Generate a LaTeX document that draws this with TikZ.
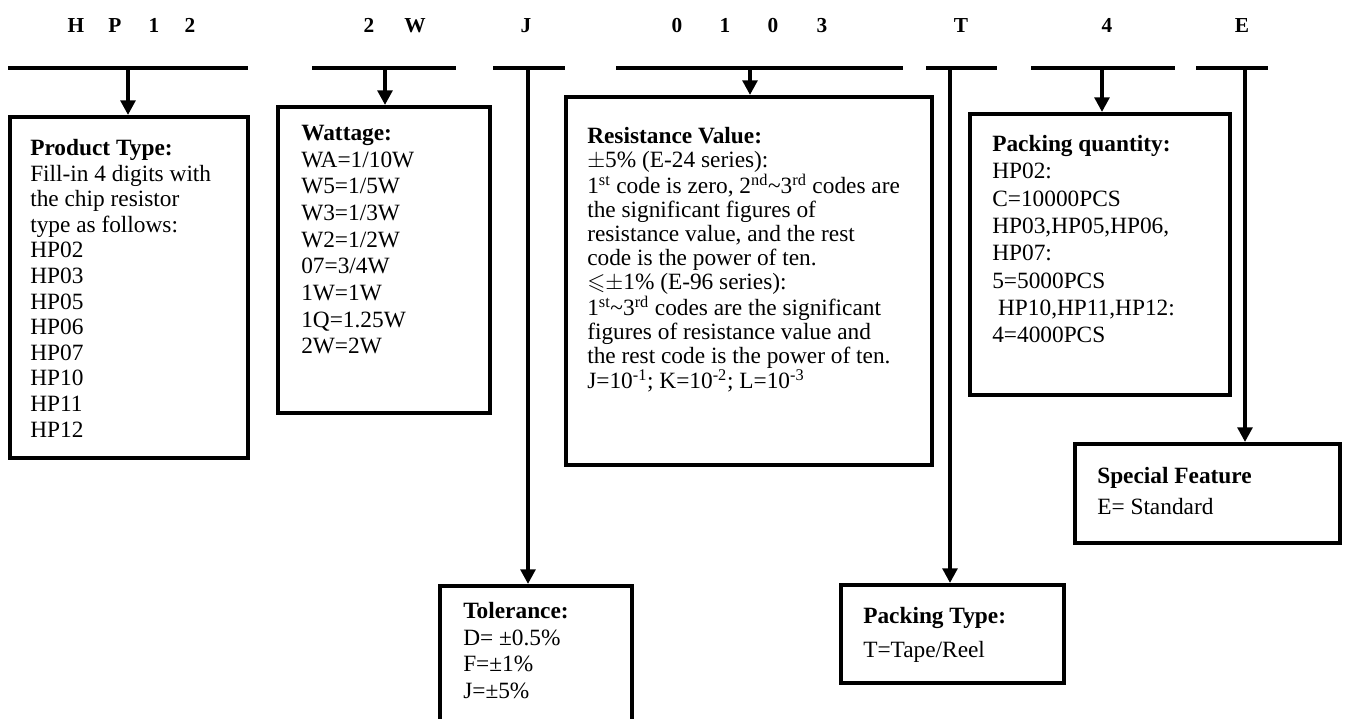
\documentclass[tikz,border=0pt]{standalone}
\usepackage{amssymb}
\usepackage{fontspec}
\setmainfont{Liberation Serif}
\usetikzlibrary{arrows.meta,fit}

\begin{document}
\begin{tikzpicture}[
    x=0.75pt, y=-0.75pt,
    codebar/.style={line width=3pt},
    feed/.style={line width=3pt, -{Triangle[length=11pt, width=11pt]}},
    codebox/.style={draw, line width=3pt, inner sep=0pt},
    boxtext/.style={anchor=north west, inner sep=0pt, align=left, font=\fontsize{17.5}{#1}\selectfont},
    head/.style={anchor=base, inner sep=0pt, font=\fontsize{16}{18}\selectfont\bfseries}
]
\useasboundingbox (0,0) rectangle (1346,718);
\clip (0,0) rectangle (1346,718);

% Kodbuchstaben oben
\foreach \hx/\hc [count=\i] in {76/H,115/P,154/1,190/2,369/2,415/W,526/J,677/0,725/1,773/0,822/3,961/T,1107/4,1242/E}
    \node[head] (hd\i) at (\hx,32) {\hc};

% Striche unter den Gruppen
\draw[codebar] (8,68) -- (248,68);
\draw[codebar] (312,68) -- (456,68);
\draw[codebar] (493,68) -- (565,68);
\draw[codebar] (616,68) -- (903,68);
\draw[codebar] (926,68) -- (997,68);
\draw[codebar] (1031,68) -- (1175,68);
\draw[codebar] (1196,68) -- (1268,68);

\coordinate (dtype) at (128,68);
\coordinate (dwatt) at (385,68);
\coordinate (dtol) at (528,68);
\coordinate (dres) at (750,68);
\coordinate (dpack) at (950,68);
\coordinate (dqty) at (1102,68);
\coordinate (dspec) at (1245,68);

% Kaesten
\node[codebox, fit={(10,117) (248,458)}] (ptype) {};
\node[codebox, fit={(278,107) (490,413)}] (watt) {};
\node[codebox, fit={(566,97) (932,465)}] (res) {};
\node[codebox, fit={(970,114) (1230,395)}] (qty) {};
\node[codebox, fit={(1075,444) (1340,543)}] (spec) {};
\node[codebox, fit={(440,586) (632,740)}] (tol) {};
\node[codebox, fit={(841,585) (1064,683)}] (pack) {};

\node[boxtext=19.2pt] (ptypetext) at (30,139) {\textbf{Product Type:}\\
    Fill-in 4 digits with\\ the chip resistor\\ type as follows:\\
    HP02\\ HP03\\ HP05\\ HP06\\ HP07\\ HP10\\ HP11\\ HP12};
\node[boxtext=20pt] (watttext) at (301,125) {\textbf{Wattage:}\\
    WA=1/10W\\ W5=1/5W\\ W3=1/3W\\ W2=1/2W\\ 07=3/4W\\ 1W=1W\\ 1Q=1.25W\\ 2W=2W};
\node[boxtext=18pt] (restext) at (587,127) {\textbf{Resistance Value:}\\
    $\pm$5\% (E-24 series):\\
    1\textsuperscript{st} code is zero, 2\textsuperscript{nd}\textasciitilde 3\textsuperscript{rd} codes are\\
    the significant figures of\\
    resistance value, and the rest\\
    code is the power of ten.\\
    $\leqslant$$\pm$1\% (E-96 series):\\
    1\textsuperscript{st}\textasciitilde 3\textsuperscript{rd} codes are the significant\\
    figures of resistance value and\\
    the rest code is the power of ten.\\
    J=10\textsuperscript{-1}; K=10\textsuperscript{-2}; L=10\textsuperscript{-3}};
\node[boxtext=20.5pt] (qtytext) at (992,135) {\textbf{Packing quantity:}\\
    HP02:\\ C=10000PCS\\ HP03,HP05,HP06,\\ HP07:\\ 5=5000PCS\\
    \hspace*{0.25em}HP10,HP11,HP12:\\ 4=4000PCS};
\node[boxtext=23pt] (spectext) at (1097,467) {\textbf{Special Feature}\\ E= Standard};
\node[boxtext=19.9pt] (toltext) at (463,602) {\textbf{Tolerance:}\\
    D= ±0.5\%\\ F=±1\%\\ J=±5\%};
\node[boxtext=25.5pt] (packtext) at (863,607) {\textbf{Packing Type:}\\ T=Tape/Reel};

% Pfeile
\draw[feed] (dtype) -- (dtype |- ptype.north);
\draw[feed] (dwatt) -- (dwatt |- watt.north);
\draw[feed] (dtol) -- (dtol |- tol.north);
\draw[feed] (dres) -- (dres |- res.north);
\draw[feed] (dpack) -- (dpack |- pack.north);
\draw[feed] (dqty) -- (dqty |- qty.north);
\draw[feed] (dspec) -- (dspec |- spec.north);
\end{tikzpicture}
\end{document}
